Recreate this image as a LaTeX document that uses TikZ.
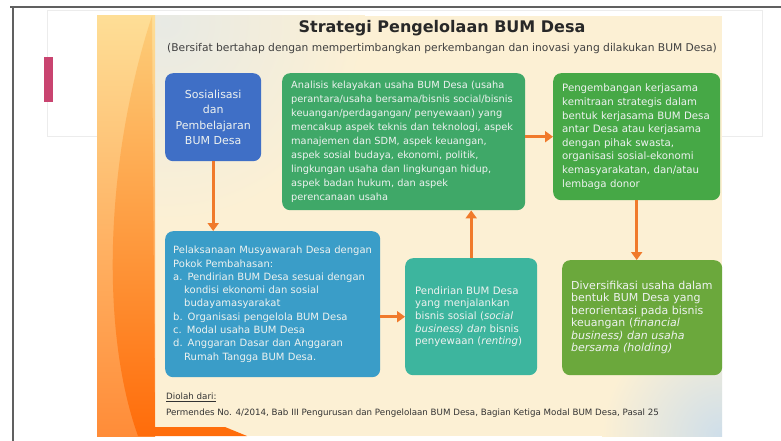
\documentclass[tikz,border=0pt]{standalone}
\usepackage{fontspec}
\setmainfont{DejaVu Sans}
\usetikzlibrary{arrows.meta}

\definecolor{cream}{RGB}{252,240,212}
\definecolor{slidegray}{RGB}{232,234,228}
\definecolor{slideblue}{RGB}{206,222,234}
\definecolor{striptop}{RGB}{254,222,150}
\definecolor{stripbot}{RGB}{255,140,56}
\definecolor{curvetop}{RGB}{253,206,122}
\definecolor{curvebot}{RGB}{255,108,10}
\definecolor{pinkbar}{RGB}{201,68,112}
\definecolor{sosblue}{RGB}{63,111,198}
\definecolor{anagreen}{RGB}{63,168,104}
\definecolor{mitgreen}{RGB}{70,168,70}
\definecolor{musblue}{RGB}{58,157,200}
\definecolor{pendteal}{RGB}{61,181,158}
\definecolor{divgreen}{RGB}{107,168,60}
\definecolor{boxtext}{RGB}{238,242,240}
\definecolor{arrowor}{RGB}{240,122,43}
\definecolor{titletext}{RGB}{40,40,40}

\newcommand{\subind}{\hspace*{11pt}}

\begin{document}
\begin{tikzpicture}[x=1pt,y=-1pt,
    box/.style={rectangle, rounded corners=8pt, anchor=north west,
      inner xsep=10pt, inner ysep=3pt, align=left, text=boxtext},
    flow/.style={draw=arrowor, line width=3pt,
      -{Triangle[width=11pt,length=8pt]}}]
  \useasboundingbox (0,0) rectangle (781,441);
  \fill[white] (0,0) rectangle (781,441);

  % window behind the slide
  \draw[gray!15, line width=0.6pt] (47,10) rectangle (762,136);
  \fill[pinkbar] (44,57) rectangle (53,102);
  \draw[gray!75!black, line width=1.6pt] (10,7) -- (781,7);
  \draw[gray!75!black, line width=1.6pt] (13,7) -- (13,441);

  % slide background
  \begin{scope}
    \clip (155,16) rectangle (722,436);
    \fill[cream] (155,16) rectangle (722,436);
    \shade[inner color=slidegray, outer color=cream] (165,22) circle (200);
    \shade[inner color=slideblue, outer color=cream] (722,436) circle (120);
  \end{scope}
  \shade[top color=striptop, bottom color=stripbot] (97,16) rectangle (155,436);
  \shade[top color=curvetop, bottom color=curvebot]
    (152,16) .. controls (105,160) and (100,330) .. (138,436)
    -- (247,436) -- (225,427) -- (155,427) -- cycle;

  % heading
  \node[font=\bfseries\fontsize{16}{19}\selectfont, text=titletext]
    (title) at (442,28) {Strategi Pengelolaan BUM Desa};
  \node[font=\fontsize{10.7}{13}\selectfont, text=black!75]
    (subtitle) at (442,49) {(Bersifat bertahap dengan mempertimbangkan perkembangan dan inovasi yang dilakukan BUM Desa)};

  % boxes
  \node[box, fill=sosblue, align=center, text width=76pt, minimum height=88pt,
    font=\fontsize{11}{15.5}\selectfont] (sosial) at (165,73)
    {Sosialisasi\\dan\\Pembelajaran\\BUM Desa};

  \node[box, fill=anagreen, inner xsep=9pt, text width=225pt, minimum height=137pt,
    font=\fontsize{9.8}{13.9}\selectfont] (analisis) at (282,73)
    {Analisis kelayakan usaha BUM Desa (usaha\\
     perantara/usaha bersama/bisnis social/bisnis\\
     keuangan/perdagangan/ penyewaan) yang\\
     mencakup aspek teknis dan teknologi, aspek\\
     manajemen dan SDM, aspek keuangan,\\
     aspek sosial budaya, ekonomi, politik,\\
     lingkungan usaha dan lingkungan hidup,\\
     aspek badan hukum, dan aspek\\
     perencanaan usaha};

  \node[box, fill=mitgreen, inner xsep=9pt, text width=149pt, minimum height=127pt,
    font=\fontsize{10.2}{13.6}\selectfont] (kemitraan) at (553,73)
    {Pengembangan kerjasama\\
     kemitraan strategis dalam\\
     bentuk kerjasama BUM Desa\\
     antar Desa atau kerjasama\\
     dengan pihak swasta,\\
     organisasi sosial-ekonomi\\
     kemasyarakatan, dan/atau\\
     lembaga donor};

  \node[box, fill=musblue, inner xsep=8pt, text width=199pt, minimum height=146pt,
    font=\fontsize{10}{13.3}\selectfont] (musdes) at (165,231)
    {Pelaksanaan Musyawarah Desa dengan\\
     Pokok Pembahasan:\\
     a. Pendirian BUM Desa sesuai dengan\\
     \subind kondisi ekonomi dan sosial\\
     \subind budayamasyarakat\\
     b. Organisasi pengelola BUM Desa\\
     c. Modal usaha BUM Desa\\
     d. Anggaran Dasar dan Anggaran\\
     \subind Rumah Tangga BUM Desa.};

  \node[box, fill=pendteal, text width=112pt, minimum height=117pt,
    font=\fontsize{10.2}{12.7}\selectfont] (pendirian) at (405,258)
    {Pendirian BUM Desa\\
     yang menjalankan\\
     bisnis sosial (\textit{social}\\
     \textit{business) dan} bisnis\\
     penyewaan (\textit{renting})};

  \node[box, fill=divgreen, inner xsep=9pt, text width=142pt, minimum height=115pt,
    font=\fontsize{11}{12.5}\selectfont] (diversi) at (562,260)
    {Diversifikasi usaha dalam\\
     bentuk BUM Desa yang\\
     berorientasi pada bisnis\\
     keuangan (\textit{financial}\\
     \textit{business) dan usaha}\\
     \textit{bersama (holding)}};

  % connectors
  \draw[flow] (sosial.south) -- (sosial.south |- musdes.north);
  \draw[flow] (musdes.east |- pendirian.west) -- (pendirian.west);
  \draw[flow] (pendirian.north) -- (pendirian.north |- analisis.south);
  \draw[flow] (analisis.east |- kemitraan.west) -- (kemitraan.west);
  \draw[flow] (kemitraan.south) -- (kemitraan.south |- diversi.north);

  % source
  \node[anchor=west, inner sep=0pt, text=black!80,
    font=\fontsize{8.7}{10}\selectfont] (diolah) at (166,397) {\underline{Diolah dari:}};
  \node[anchor=west, inner sep=0pt, text=black!80,
    font=\fontsize{8.7}{10}\selectfont] (sumber) at (166,413)
    {Permendes No. 4/2014, Bab III Pengurusan dan Pengelolaan BUM Desa, Bagian Ketiga Modal BUM Desa, Pasal 25};
\end{tikzpicture}
\end{document}
